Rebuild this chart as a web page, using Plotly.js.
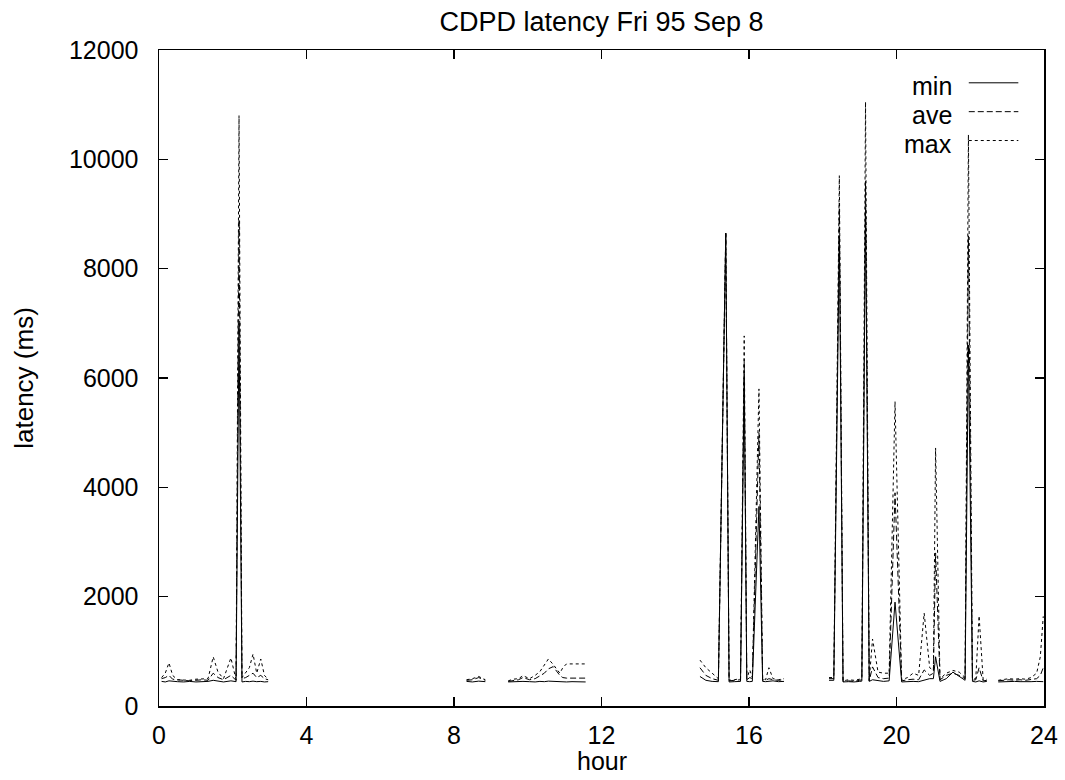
<!DOCTYPE html>
<html>
<head>
<meta charset="utf-8">
<script src="https://cdn.plot.ly/plotly-3.0.1.min.js"></script>
<style>html,body{margin:0;padding:0;background:#fff;}#chart{width:1065px;height:780px;}</style>
</head>
<body>
<div id="chart"></div>
<script>
// hour of day (null values in series mark gaps in the data)
var hours = [
  0.07,0.17,0.27,0.37,0.50,0.67,0.83,1.00,1.17,1.33,1.47,1.60,1.75,1.95,2.09,2.17,2.25,2.35,2.45,2.55,2.65,2.76,2.86,2.96,
  3.5,
  8.34,8.50,8.67,8.85,
  9.2,
  9.47,9.60,9.75,9.87,10.05,10.20,10.33,10.45,10.56,10.69,10.87,10.95,11.05,11.20,11.35,11.57,
  13.0,
  14.67,14.83,15.00,15.17,15.37,15.46,15.60,15.77,15.87,15.94,16.02,16.09,16.27,16.37,16.45,16.54,16.65,16.80,16.95,
  17.5,
  18.17,18.30,18.45,18.55,18.70,18.85,19.00,19.06,19.16,19.26,19.35,19.50,19.65,19.80,19.96,20.14,20.30,20.45,20.60,20.75,20.90,21.00,21.06,21.18,21.35,21.53,21.70,21.86,21.95,22.06,22.15,22.24,22.35,22.45,
  22.6,
  22.76,22.90,23.05,23.20,23.35,23.50,23.65,23.80,23.90,23.98
];

var minLatency = [
  450,440,460,450,445,440,450,440,445,450,470,450,440,460,445,7000,440,450,445,455,445,450,440,445,
  null,
  450,440,455,445,
  null,
  440,445,440,450,445,440,450,445,455,450,440,445,440,445,440,440,
  null,
  540,470,450,445,8650,440,445,450,6000,450,445,450,3650,450,445,450,460,445,450,
  null,
  470,470,8600,440,445,440,450,455,9100,450,480,470,450,460,1900,440,450,450,445,470,500,500,900,450,500,620,550,470,6600,450,440,460,440,450,
  null,
  440,445,440,450,445,440,445,450,445,445
];

var aveLatency = [
  500,520,560,490,480,470,460,470,480,470,600,520,480,560,470,8900,500,520,560,600,520,560,500,480,
  null,
  470,480,520,470,
  null,
  450,470,480,520,480,500,560,600,680,720,560,520,510,510,510,510,
  null,
  700,560,500,470,8650,460,470,480,6300,480,520,500,5000,480,470,500,480,470,480,
  null,
  500,500,9200,450,460,450,470,480,9600,460,715,520,500,510,3900,460,480,490,480,660,560,600,2800,480,560,600,560,500,8600,470,480,700,460,470,
  null,
  460,470,480,470,480,470,490,500,560,700
];

var maxLatency = [
  520,600,790,560,480,480,470,490,500,500,900,620,500,880,480,10800,520,600,700,950,600,860,560,490,
  null,
  480,500,540,480,
  null,
  460,490,500,555,500,560,630,740,860,760,600,700,770,770,770,770,
  null,
  840,700,600,500,8650,470,480,500,6770,500,660,520,5800,500,480,700,500,480,500,
  null,
  520,520,9700,460,480,470,490,500,11050,470,1225,620,600,600,5570,480,520,600,560,1700,700,650,4720,500,600,650,620,520,10450,490,500,1650,480,490,
  null,
  470,480,500,490,500,490,520,600,900,1640
];

var seriesNames = ['min', 'ave', 'max'];
var xTicks = [0, 4, 8, 12, 16, 20, 24];
var yTicks = [0, 2000, 4000, 6000, 8000, 10000, 12000];

var FONT = 'Liberation Sans, Arial, Helvetica, sans-serif';
var dashes = ['solid', '6px,3px', '3px,3px'];
var seriesData = [minLatency, aveLatency, maxLatency];

var traces = seriesData.map(function (ys, i) {
  return {
    x: hours, y: ys, name: seriesNames[i], type: 'scatter', mode: 'lines',
    connectgaps: false,
    line: {color: '#000', width: 1, dash: dashes[i]},
    showlegend: false
  };
});

// gnuplot-style key: right-aligned label, line sample to the right
var keyY = [0.945, 0.901, 0.857];
var annotations = seriesNames.map(function (n, i) {
  return {xref: 'paper', yref: 'paper', x: 0.8985, y: keyY[i], xanchor: 'right', yanchor: 'middle',
          text: n, showarrow: false, font: {family: FONT, size: 25, color: '#000'}};
});
annotations.push({xref: 'paper', yref: 'paper', x: 0.5, y: -(761 - 706) / 656, xanchor: 'center', yanchor: 'middle',
                  text: 'hour', showarrow: false, font: {family: FONT, size: 25, color: '#000'}});
var shapes = seriesNames.map(function (n, i) {
  return {type: 'line', xref: 'paper', yref: 'paper', x0: 0.915, x1: 0.971, y0: keyY[i] + 0.005, y1: keyY[i] + 0.005,
          line: {color: '#000', width: 1, dash: dashes[i]}};
});

var layout = {
  width: 1065, height: 780,
  margin: {l: 159, r: 21, t: 50, b: 74, autoexpand: false},
  paper_bgcolor: '#fff', plot_bgcolor: '#fff',
  font: {family: FONT, size: 25, color: '#000'},
  title: {text: 'CDPD latency Fri 95 Sep 8', font: {family: FONT, size: 27, color: '#000'},
          x: 0.5, xref: 'paper', y: 1 - 22 / 780, yref: 'container', yanchor: 'middle'},
  xaxis: {
    range: [0, 24], tickvals: xTicks, ticktext: xTicks.map(String),
    ticks: 'inside', ticklen: 9, tickwidth: 1.5, tickcolor: '#000',
    showline: true, linecolor: '#000', linewidth: 1.5, mirror: 'allticks',
    showgrid: false, zeroline: false, ticklabelstandoff: 6,
    tickfont: {family: FONT, size: 25, color: '#000'}
  },
  yaxis: {
    range: [0, 12000], tickvals: yTicks, ticktext: yTicks.map(String),
    ticks: 'inside', ticklen: 9, tickwidth: 1.5, tickcolor: '#000',
    showline: true, linecolor: '#000', linewidth: 1.5, mirror: 'allticks',
    showgrid: false, zeroline: false, ticklabelstandoff: 14,
    tickfont: {family: FONT, size: 25, color: '#000'},
    title: {text: 'latency (ms)', font: {family: FONT, size: 26, color: '#000'}, standoff: 28}
  },
  annotations: annotations,
  shapes: shapes,
  showlegend: false
};

Plotly.newPlot('chart', traces, layout, {displayModeBar: false, staticPlot: true});
</script>
</body>
</html>
